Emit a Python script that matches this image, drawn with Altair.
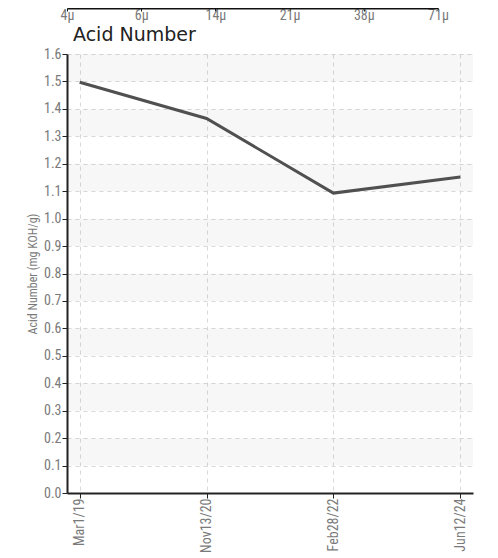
import altair as alt
import pandas as pd

# Top strip (cropped axis of the chart above)
size_labels = ["4µ", "6µ", "14µ", "21µ", "38µ", "71µ"]

# Main chart data
dates = ["Mar1/19", "Nov13/20", "Feb28/22", "Jun12/24"]
acid = [1.497, 1.365, 1.093, 1.152]

y_ticks = [round(i * 0.1, 1) for i in range(17)]
band_starts = [0.1, 0.3, 0.5, 0.7, 0.9, 1.1, 1.3, 1.5]

AXFONT = "Roboto Condensed"
LABEL = "#7a7a7a"
DARK = "#222222"

top_df = pd.DataFrame({"s": size_labels})
top = alt.Chart(top_df).mark_point(opacity=0, size=0).encode(
    x=alt.X("s:N", sort=size_labels, scale=alt.Scale(type="point", padding=0),
            axis=alt.Axis(title=None, labelAngle=0, labelFont=AXFONT, labelFontSize=14,
                          labelColor=LABEL, domainColor="#111111", domainWidth=2,
                          tickColor="#111111", tickSize=3, labelPadding=-3, grid=False))
).properties(width=371, height=1)

df = pd.DataFrame({"date": dates, "acid": acid})
bands = pd.DataFrame({"b0": band_starts})

y_scale = alt.Scale(domain=[0, 1.6], nice=False, zero=True)
y_axis = alt.Axis(title="Acid Number (mg KOH/g)", values=y_ticks, format=".1f",
                  labelFont=AXFONT, labelFontSize=14, labelColor=LABEL,
                  titleFont=AXFONT, titleFontSize=12, titleColor=LABEL,
                  titleFontWeight="normal", titlePadding=4,
                  domainColor=DARK, domainWidth=2, tickColor=DARK,
                  tickSize=5, labelPadding=1, labelOverlap=False,
                  grid=True, gridDash=[4, 4], gridColor="#d9d9d9")

bg = alt.Chart(bands).mark_rect(color="#000000", opacity=0.032).transform_calculate(
    b1="datum.b0 + 0.1"
).encode(
    y=alt.Y("b0:Q", scale=y_scale, axis=y_axis),
    y2="b1:Q",
)

line = alt.Chart(df).mark_line(color="#505050", strokeWidth=3).encode(
    x=alt.X("date:N", sort=dates, scale=alt.Scale(type="point", padding=0.1),
            axis=alt.Axis(title=None, labelAngle=-90, labelFont=AXFONT, labelFontSize=14,
                          labelColor=LABEL, domainColor=DARK, domainWidth=2,
                          tickColor=DARK, tickSize=5, labelPadding=0,
                          grid=True, gridDash=[4, 4], gridColor="#d9d9d9")),
    y=alt.Y("acid:Q", scale=y_scale, axis=y_axis),
)

main = alt.layer(bg, line).properties(
    width=406, height=439,
    title=alt.TitleParams("Acid Number", anchor="start", frame="group", font="DejaVu Sans",
                          fontSize=19, fontWeight="normal", color=DARK,
                          dx=6, offset=2),
)

chart = alt.vconcat(top, main, spacing=46, bounds="flush").properties(
    padding={"top": -1, "left": 18, "right": 5, "bottom": 5}
).configure_view(stroke=None)

chart.save("out.html", embed_options={"renderer": "svg", "actions": False})
